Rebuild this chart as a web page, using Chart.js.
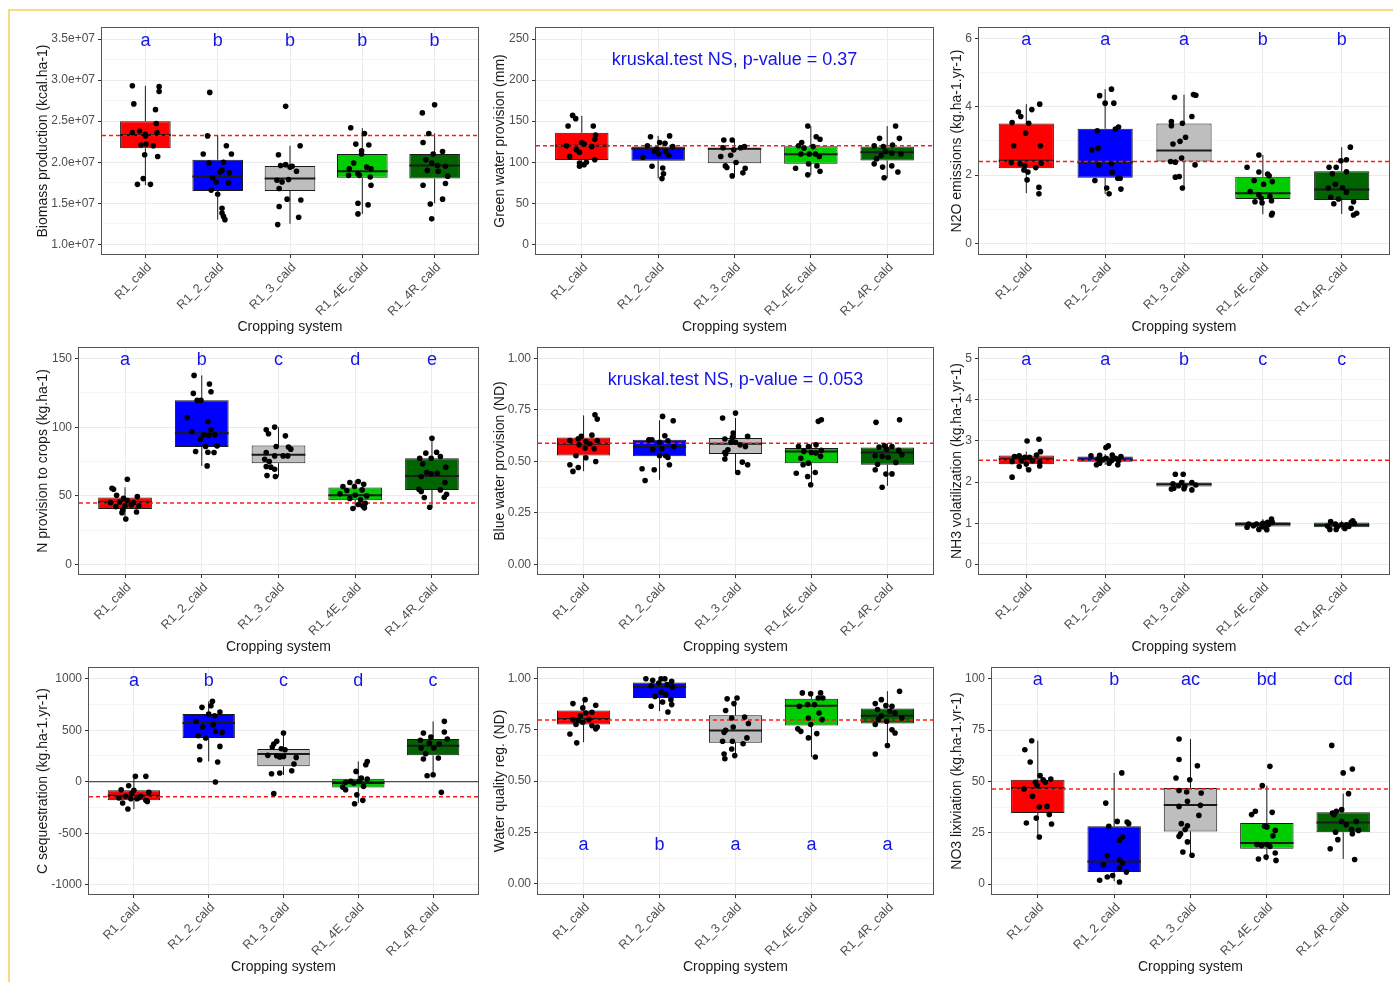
<!DOCTYPE html>
<html>
<head>
<meta charset="utf-8">
<script src="https://cdn.jsdelivr.net/npm/chart.js@4/dist/chart.umd.min.js"></script>
<style>
  html, body { margin: 0; padding: 0; background: #fff; overflow: hidden; }
  #page { position: relative; width: 1393px; height: 982px; }
  #frame { position: absolute; left: 8px; top: 9px; width: 1420px; height: 1000px;
           border: 2px solid #f5dc80; box-sizing: border-box; }
  canvas { position: absolute; }
</style>
</head>
<body>
<div id="page"><div id="frame"></div></div>
<script>
// cropping systems on the x axis
const categories = ['R1_cald', 'R1_2_cald', 'R1_3_cald', 'R1_4E_cald', 'R1_4R_cald'];

// boxes: [lower whisker, q1, median, q3, upper whisker]; points: [jitter, value]
const biomassBoxes = [[1.72e7, 2.17e7, 2.33e7, 2.50e7, 2.93e7], [1.30e7, 1.65e7, 1.825e7, 2.03e7, 2.33e7],
  [1.25e7, 1.65e7, 1.80e7, 1.955e7, 2.20e7], [1.37e7, 1.81e7, 1.89e7, 2.10e7, 2.415e7], [1.50e7, 1.80e7, 1.96e7, 2.10e7, 2.35e7]];
const biomassPoints = [
  [[-0.18,2.93e7],[0.19,2.92e7],[0.19,2.86e7],[-0.16,2.71e7],[0.14,2.64e7],[0.15,2.47e7],[-0.18,2.36e7],[-0.08,2.38e7],[0.0,2.34e7],[0.0,2.32e7],[0.16,2.36e7],[-0.06,2.21e7],[0.01,2.22e7],[0.11,2.20e7],[-0.01,2.09e7],[0.17,2.07e7],[-0.03,1.80e7],[-0.11,1.73e7],[0.07,1.73e7]],
  [[-0.11,2.85e7],[-0.14,2.32e7],[0.12,2.20e7],[-0.2,2.10e7],[0.19,2.10e7],[-0.12,1.99e7],[0.08,2.00e7],[0.06,1.90e7],[0.16,1.87e7],[-0.07,1.81e7],[-0.02,1.76e7],[0.15,1.75e7],[-0.09,1.66e7],[0.0,1.61e7],[0.06,1.44e7],[0.06,1.38e7],[0.08,1.34e7],[0.1,1.30e7],[0.03,1.88e7]],
  [[-0.06,2.68e7],[0.14,2.20e7],[-0.16,2.09e7],[-0.13,1.96e7],[-0.06,1.97e7],[0,1.94e7],[0.09,1.89e7],[0.03,1.95e7],[-0.18,1.78e7],[-0.11,1.76e7],[-0.02,1.79e7],[-0.15,1.68e7],[-0.04,1.55e7],[0.15,1.54e7],[-0.15,1.46e7],[0.12,1.33e7],[-0.17,1.24e7]],
  [[-0.16,2.42e7],[0.03,2.35e7],[-0.09,2.22e7],[0.09,2.21e7],[-0.01,2.10e7],[-0.01,2.14e7],[-0.12,1.99e7],[0.06,1.94e7],[0.12,1.92e7],[-0.18,1.92e7],[-0.06,1.86e7],[-0.19,1.84e7],[-0.04,1.84e7],[0.11,1.82e7],[0.12,1.72e7],[-0.06,1.50e7],[0.08,1.48e7],[-0.06,1.37e7]],
  [[-0.17,2.60e7],[0,2.70e7],[-0.08,2.35e7],[-0.16,2.24e7],[0.11,2.13e7],[-0.02,2.10e7],[-0.12,2.03e7],[-0.04,1.99e7],[0.04,1.96e7],[0.15,1.95e7],[-0.1,1.90e7],[0.05,1.89e7],[0.18,1.83e7],[-0.16,1.72e7],[0.15,1.74e7],[-0.06,1.49e7],[0.11,1.55e7],[-0.04,1.31e7]]
];
const biomassRef = 2.325e7;
const biomassLetters = ['a', 'b', 'b', 'b', 'b'];
const biomassTicks = [1.0e7, 1.5e7, 2.0e7, 2.5e7, 3.0e7, 3.5e7];

const greenBoxes = [[94.7, 102.8, 119.9, 135.8, 156.5], [80.5, 101.6, 116.3, 119.1, 132.1], [83.3, 98.8, 116.3, 116.7, 128],
  [84.6, 98, 109.8, 119.5, 143.9], [80.5, 102, 112.2, 119.1, 143.9]];
const greenPoints = [
  [[-0.12,157],[-0.08,153],[-0.18,144],[0.15,144],[0.18,133],[0.17,128],[0,124],[0.03,122],[-0.2,120],[0.13,119],[-0.07,115],[-0.03,112],[-0.16,107],[0.17,103],[-0.03,99],[0.06,100],[0.03,97],[-0.03,95]],
  [[-0.1,131],[0.15,132],[0.02,124],[0.09,123],[-0.14,120],[-0.02,116],[0.19,119],[0.1,113],[-0.2,106],[0.14,108.5],[-0.08,95],[0.06,93],[0.07,86],[0.05,80],[0.01,110],[-0.05,113]],
  [[-0.14,127],[-0.03,127],[-0.15,117.5],[0.13,119],[-0.01,115],[-0.18,107],[-0.05,108.5],[-0.12,95.5],[0.02,99.6],[-0.1,93.5],[0.14,92.7],[-0.03,83.3],[0.11,87],[0.08,117.5]],
  [[-0.04,144],[0.07,131],[0.12,128],[-0.12,124],[-0.16,120],[-0.09,117],[0.03,119],[-0.02,110],[0.06,110],[-0.13,110],[0.11,107],[-0.03,98],[0.08,95.5],[-0.2,92.7],[0.12,89],[-0.04,84.6]],
  [[0.11,144],[-0.1,129],[0.16,129],[-0.17,120],[-0.05,119],[0.07,121],[-0.02,113],[-0.08,108],[0.06,111],[0.18,110],[-0.14,104],[-0.17,98],[-0.06,94],[0.06,95.5],[0.14,88],[-0.04,81]]
];
const greenRef = 119.9;
const greenTicks = [0, 50, 100, 150, 200, 250];

const n2oBoxes = [[1.47, 2.20, 2.42, 3.51, 4.08], [1.45, 1.92, 2.37, 3.36, 4.52], [1.615, 2.40, 2.72, 3.51, 4.36],
  [0.85, 1.30, 1.47, 1.95, 2.59], [0.86, 1.27, 1.58, 2.11, 2.82]];
const n2oPoints = [
  [[0.17,4.08],[0.07,3.92],[-0.1,3.85],[-0.07,3.72],[-0.18,3.54],[0.03,3.52],[-0.01,3.23],[-0.16,2.86],[0.18,2.86],[-0.19,2.37],[-0.08,2.33],[-0.02,2.28],[0.19,2.35],[0.12,2.22],[-0.03,2.15],[0.02,2.09],[0.01,1.86],[0.16,1.64],[0.16,1.45]],
  [[0.08,4.52],[-0.07,4.33],[0,4.11],[0.11,4.11],[0.17,3.41],[0.13,3.35],[-0.1,3.30],[-0.09,2.79],[-0.17,2.74],[-0.08,2.29],[0.08,2.33],[0.09,2.08],[0.16,1.91],[0.19,1.91],[-0.13,1.84],[0.02,1.62],[0.2,1.59],[0.05,1.45]],
  [[-0.12,4.28],[0.12,4.36],[0.15,4.34],[0.1,3.72],[-0.16,3.57],[-0.02,3.52],[-0.16,3.45],[0.02,3.11],[-0.05,2.99],[-0.14,2.91],[-0.03,2.50],[-0.17,2.40],[-0.11,2.38],[0.14,2.30],[-0.11,1.94],[-0.06,1.96],[-0.02,1.62]],
  [[-0.05,2.59],[-0.2,2.23],[-0.05,2.09],[0.06,2.03],[0.08,1.98],[-0.11,1.84],[0.12,1.81],[0.01,1.73],[-0.16,1.52],[-0.05,1.42],[0.09,1.37],[-0.02,1.32],[-0.1,1.22],[-0.01,1.19],[0.11,1.25],[0.12,0.88],[0.11,0.83]],
  [[0.11,2.82],[0.06,2.45],[-0.01,2.42],[-0.16,2.23],[-0.07,2.23],[0.06,2.10],[-0.12,2.04],[-0.08,1.73],[0.01,1.63],[-0.17,1.62],[0.06,1.50],[-0.14,1.35],[-0.04,1.30],[0.15,1.22],[-0.1,1.16],[0.12,1.03],[0.19,0.88],[0.15,0.83]]
];
const n2oRef = 2.40;
const n2oLetters = ['a', 'a', 'a', 'b', 'b'];
const n2oTicks = [0, 2, 4, 6];

const nCropBoxes = [[32.9, 40.4, 45.3, 48.7, 56.2], [71.8, 85.5, 95.7, 119.6, 137.8], [64, 73.8, 79.9, 86.7, 100.1],
  [40.4, 46.8, 50.4, 56, 61.1], [41.6, 54.3, 64.5, 77.4, 92]];
const nCropPoints = [
  [[0.03,62.1],[-0.17,55.5],[-0.15,54.8],[-0.11,50.4],[0.16,49.4],[-0.02,48.2],[0.03,46.5],[-0.19,45],[-0.07,45.5],[0.11,45],[0.08,43.3],[0,42.6],[-0.12,42.1],[0.18,42.6],[-0.03,39.7],[0.15,38.2],[-0.04,37.7],[0.01,33.1]],
  [[-0.1,137.8],[0.1,131.5],[-0.11,124.7],[0.12,125.9],[-0.06,119.6],[-0.01,119.6],[-0.19,107.1],[0.08,104.2],[-0.13,96.9],[0.12,98.1],[0.03,94.5],[0.09,94.2],[0.17,94.5],[-0.02,91.3],[0.2,86.4],[0.05,86],[-0.08,82.3],[0.08,81.8],[0.16,81.6],[0.07,71.8]],
  [[-0.05,100.1],[-0.16,98.1],[-0.13,95.2],[0.09,93.7],[-0.03,86],[0.13,85.5],[0.16,84],[-0.16,81.6],[-0.05,79.1],[0.06,79.1],[0.12,79.1],[-0.18,76.7],[-0.12,75],[-0.1,70.9],[-0.16,71.3],[-0.05,69.4],[-0.15,64.8],[-0.04,64]],
  [[-0.07,59.7],[0.04,60.4],[0.11,58.4],[-0.16,56.7],[-0.01,56.7],[-0.11,53.8],[0.09,54.3],[-0.2,51.4],[0,50.6],[0.15,49.9],[-0.07,48],[0.07,47],[0.13,44.6],[0.04,43.6],[0.1,42.6],[-0.03,40.7],[0.12,41.2]],
  [[0,92],[0.06,81.8],[-0.08,81.1],[0.11,78.7],[-0.16,77.4],[-0.01,77.4],[-0.12,73.3],[0.18,70.9],[-0.07,67],[0.07,66.5],[-0.01,66],[-0.14,64],[0.17,59.7],[-0.17,54.8],[0.11,54.3],[-0.14,53.1],[0.19,51.1],[0.16,48.9],[-0.1,48.7],[-0.03,41.6]]
];
const nCropRef = 44.8;
const nCropLetters = ['a', 'b', 'c', 'd', 'e'];
const nCropTicks = [0, 50, 100, 150];

const blueBoxes = [[0.452, 0.528, 0.585, 0.616, 0.723], [0.41, 0.524, 0.569, 0.605, 0.699], [0.442, 0.536, 0.585, 0.613, 0.71],
  [0.386, 0.491, 0.548, 0.564, 0.588], [0.381, 0.483, 0.543, 0.567, 0.588]];
const bluePoints = [
  [[0.15,0.726],[0.18,0.705],[0.11,0.627],[-0.03,0.621],[-0.07,0.609],[-0.18,0.601],[0.03,0.596],[0.18,0.6],[0.08,0.585],[-0.06,0.58],[0.02,0.564],[0.14,0.561],[-0.1,0.527],[0.03,0.517],[0.16,0.499],[-0.18,0.483],[-0.07,0.47],[-0.14,0.451]],
  [[0.04,0.718],[0.18,0.697],[-0.14,0.605],[-0.1,0.605],[0.07,0.624],[0.11,0.6],[0,0.592],[0.19,0.572],[-0.09,0.556],[0.03,0.561],[0.08,0.527],[0,0.527],[0.11,0.519],[0.13,0.483],[-0.23,0.464],[-0.07,0.459],[-0.19,0.407]],
  [[0,0.734],[-0.17,0.71],[-0.03,0.637],[-0.04,0.616],[-0.14,0.608],[0.16,0.621],[-0.06,0.593],[0,0.592],[0.06,0.58],[0.13,0.572],[-0.1,0.556],[-0.14,0.543],[-0.13,0.535],[-0.14,0.511],[0.09,0.496],[0.16,0.483],[0.03,0.446]],
  [[0.09,0.694],[0.13,0.702],[-0.04,0.572],[0.06,0.58],[-0.17,0.572],[-0.1,0.548],[0.13,0.553],[0,0.543],[0.06,0.54],[-0.14,0.515],[0.12,0.524],[-0.04,0.491],[-0.11,0.483],[-0.2,0.442],[0.05,0.446],[-0.05,0.426],[-0.01,0.386]],
  [[-0.15,0.689],[0.16,0.702],[-0.04,0.575],[0.06,0.572],[-0.11,0.569],[-0.01,0.559],[0.15,0.553],[-0.16,0.527],[-0.07,0.524],[0.01,0.52],[0.19,0.532],[0.11,0.494],[-0.13,0.486],[-0.16,0.459],[-0.02,0.438],[0.06,0.439],[-0.07,0.374]]
];
const blueRef = 0.588;
const blueTicks = [0, 0.25, 0.5, 0.75, 1.0];

const nh3Boxes = [[2.30, 2.435, 2.557, 2.646, 2.744], [2.42, 2.492, 2.549, 2.622, 2.68], [1.81, 1.891, 1.948, 1.989, 2.05],
  [0.84, 0.917, 0.982, 1.023, 1.1], [0.85, 0.901, 0.958, 1.015, 1.063]];
const nh3Points = [
  [[0.01,3.0],[0.16,3.04],[0.18,2.74],[-0.15,2.62],[0.13,2.66],[-0.09,2.64],[-0.02,2.6],[0.04,2.6],[-0.18,2.5],[-0.06,2.52],[0.08,2.52],[0.17,2.48],[-0.09,2.38],[0,2.44],[0.17,2.39],[0.03,2.3],[-0.18,2.12]],
  [[0.04,2.88],[0.01,2.84],[-0.18,2.64],[-0.07,2.65],[0.09,2.66],[0.2,2.62],[-0.09,2.56],[0.01,2.58],[0.13,2.58],[-0.03,2.54],[0.08,2.52],[0.17,2.52],[-0.11,2.42],[0.05,2.46],[0.16,2.42],[-0.07,2.46]],
  [[-0.11,2.19],[-0.01,2.19],[-0.14,1.96],[-0.03,1.99],[0.1,1.99],[0.15,1.93],[-0.13,1.85],[-0.07,1.91],[0.01,1.89],[0.1,1.81],[0,1.84],[-0.16,1.83]],
  [[0.11,1.1],[0.12,1.02],[0,1.0],[-0.08,0.98],[-0.18,0.98],[0.07,0.96],[-0.12,0.94],[-0.01,0.92],[-0.2,0.9],[0.04,0.88],[0.05,0.84],[-0.05,0.85],[0.06,1.02]],
  [[0.14,1.06],[-0.14,1.04],[0.12,1.02],[-0.08,0.98],[0,0.96],[0.06,0.96],[-0.18,0.93],[-0.05,0.92],[0.09,0.92],[-0.15,0.85],[-0.07,0.85],[0.04,0.87],[0.16,1.0]]
];
const nh3Ref = 2.53;
const nh3Letters = ['a', 'a', 'b', 'c', 'c'];
const nh3Ticks = [0, 1, 2, 3, 4, 5];

const cSeqBoxes = [[-265, -181, -136, -84, 45], [197, 424, 570, 657, 780], [65, 149, 269, 317, 473],
  [-207, -55, -13, 29, 197], [58, 256, 350, 414, 586]];
const cSeqPoints = [
  [[0.02,52],[0.16,52],[-0.07,-39],[-0.17,-78],[0,-84],[0.2,-103],[-0.03,-116],[-0.11,-142],[0.09,-142],[-0.2,-158],[0.04,-165],[0.16,-181],[-0.04,-165],[-0.15,-207],[-0.08,-265],[0.06,-158],[0.18,-191]],
  [[0.05,780],[0.03,738],[-0.09,722],[0.15,676],[0,657],[0.08,641],[-0.17,586],[-0.08,531],[0.06,553],[0.18,479],[0.09,489],[-0.14,447],[-0.04,424],[-0.12,343],[0.15,343],[-0.12,214],[0.12,191],[0.09,-3]],
  [[0,473],[-0.13,366],[-0.09,392],[-0.15,337],[-0.03,320],[0.02,311],[-0.21,256],[-0.09,252],[-0.05,240],[0.17,236],[0,246],[0.14,172],[0.11,107],[-0.16,78],[-0.05,84],[-0.13,-116]],
  [[0.12,197],[0.1,165],[-0.03,100],[0.04,36],[-0.1,3],[0.01,3],[0.12,26],[-0.17,-6],[-0.06,-13],[-0.21,-52],[-0.17,-78],[0.07,-45],[-0.02,-126],[0.06,-181],[-0.05,-214]],
  [[0.15,586],[-0.13,473],[0.15,482],[-0.03,434],[0.19,414],[-0.17,401],[0.08,366],[-0.05,375],[-0.16,327],[0.01,327],[-0.1,272],[0.07,230],[-0.13,220],[-0.08,58],[0,68],[0.11,-103]]
];
const cSeqRef = -146;
const cSeqLetters = ['a', 'b', 'c', 'd', 'c'];
const cSeqTicks = [-1000, -500, 0, 500, 1000];

const wqBoxes = [[0.689, 0.775, 0.802, 0.843, 0.901], [0.84, 0.904, 0.958, 0.979, 1.0], [0.617, 0.686, 0.746, 0.82, 0.904],
  [0.617, 0.77, 0.867, 0.9, 0.932], [0.677, 0.78, 0.818, 0.853, 0.937]];
const wqPoints = [
  [[0.02,0.896],[-0.14,0.877],[0.16,0.869],[-0.01,0.856],[0.11,0.835],[0.03,0.831],[-0.04,0.818],[-0.14,0.799],[-0.07,0.796],[0.07,0.799],[-0.01,0.786],[-0.1,0.775],[0.11,0.77],[0.16,0.754],[-0.18,0.729],[-0.09,0.686],[0.18,0.763]],
  [[-0.18,0.998],[-0.09,0.99],[0.02,0.997],[0.07,0.997],[0.16,0.985],[-0.01,0.977],[0.1,0.969],[-0.11,0.964],[0.17,0.958],[0.02,0.932],[0.08,0.921],[-0.06,0.912],[0.15,0.896],[0.04,0.885],[0.16,0.872],[-0.11,0.864],[0.11,0.836]],
  [[-0.11,0.9],[0.02,0.904],[-0.02,0.877],[-0.13,0.843],[0.12,0.812],[-0.05,0.807],[0.17,0.78],[-0.03,0.763],[-0.13,0.747],[-0.15,0.737],[0.15,0.71],[-0.17,0.694],[-0.04,0.694],[0.1,0.682],[-0.05,0.656],[-0.15,0.632],[-0.01,0.624],[-0.14,0.609]],
  [[-0.12,0.929],[-0.01,0.925],[0.12,0.929],[0.09,0.904],[0.15,0.904],[-0.16,0.864],[-0.05,0.872],[0.04,0.872],[0.1,0.831],[-0.04,0.807],[0.14,0.799],[-0.18,0.754],[-0.14,0.742],[-0.01,0.775],[0.07,0.731],[-0.04,0.71],[0.05,0.617]],
  [[0.16,0.937],[-0.08,0.896],[-0.16,0.877],[-0.02,0.867],[0.06,0.864],[-0.13,0.848],[0.03,0.84],[0.1,0.831],[-0.08,0.818],[0.19,0.807],[-0.12,0.799],[-0.01,0.791],[-0.16,0.775],[0.06,0.75],[0.1,0.734],[0,0.673],[-0.16,0.632]]
];
const wqRef = 0.797;
const wqLetters = ['a', 'b', 'a', 'a', 'a'];

const no3Boxes = [[22.9, 34.6, 46.8, 50.8, 69.8], [1.3, 5.8, 10.9, 28.1, 54.1], [14.3, 25.6, 38.5, 46.8, 70.6],
  [11.5, 17.2, 20, 29.7, 47.9], [12.2, 25.2, 29.9, 34.9, 44]];
const no3Points = [
  [[-0.08,69.8],[-0.17,65.4],[-0.1,59.4],[0.03,52.8],[0.07,50.8],[0.17,51.1],[-0.03,49.5],[-0.18,46.3],[0.1,49.5],[-0.07,42.7],[0.12,37.8],[0.02,37.5],[0.15,33.9],[-0.02,32.1],[-0.15,29.7],[0.18,29.2],[0.02,22.9],[-0.01,47.9]],
  [[0.1,54.1],[-0.11,39.4],[0.04,30.5],[0.17,30.2],[-0.07,28.1],[0.19,29.4],[0.11,22.9],[0.07,21.3],[-0.09,13.8],[0.07,11.9],[0.11,10.2],[-0.14,9.4],[0.07,7.8],[0.16,5.8],[-0.02,4.1],[-0.09,3.4],[-0.19,1.8],[0.07,1]],
  [[-0.15,70.6],[-0.15,60.6],[0.09,57.6],[-0.19,51.6],[-0.01,50.8],[-0.15,45.5],[-0.05,44.8],[0.14,44.3],[-0.04,40.3],[-0.15,37.8],[0.13,38.3],[0.11,33.4],[-0.12,29.4],[-0.04,28.4],[-0.07,26.5],[-0.13,24.4],[-0.15,23.2],[-0.04,20.5],[-0.1,15.6],[0.02,14]],
  [[0.04,57.3],[-0.06,47.9],[-0.2,33.8],[-0.15,35.4],[0.07,34.9],[-0.03,28.1],[0,27.8],[0.11,26.1],[0.08,23.5],[-0.13,19.2],[-0.07,18.7],[0,19.2],[0.04,18.3],[0.11,15.1],[-0.11,12.2],[-0.01,13.1],[0.12,11.5]],
  [[-0.15,67.5],[0.12,56],[0,54.1],[0.07,44],[-0.14,34.6],[-0.02,36.2],[-0.09,35.4],[-0.12,33.8],[0.17,30.5],[-0.02,30.5],[0.04,28.9],[-0.1,25.2],[0.11,26.5],[0.2,26.1],[0.12,24.5],[-0.07,21.6],[-0.17,17.2],[0.15,11.9]]
];
const no3Ref = 46.3;
const no3Letters = ['a', 'b', 'ac', 'bd', 'cd'];
const no3Ticks = [0, 25, 50, 75, 100];

// ---- style ----
const FONT = '"Liberation Sans", Arial, sans-serif';
const boxColors = ['#ff0000', '#0000ff', '#bebebe', '#00cd00', '#006400'];
const X_MIN = 0.4, X_MAX = 5.6, BOX_HALF = 0.35;

// page columns / rows (canvas placement) and axis title centres
const COLS = [{ left: 20, right: 482, title: 43 }, { left: 482, right: 937, title: 500 }, { left: 937, right: 1393, title: 957 }];
const ROWS = [{ top: 14, bottom: 338, title: 327 }, { top: 338, bottom: 658, title: 647 }, { top: 658, bottom: 982, title: 967 }];

const fmtInt = v => String(v);
const fmt2 = v => v.toFixed(2);
const fmtExp = v => v.toExponential(1).replace(/e\+(\d)$/, 'e+0$1');

const panels = [
  { col: 0, row: 0, plot: [102, 28, 478, 254], title: 'Biomass production (kcal.ha-1)', boxes: biomassBoxes, points: biomassPoints,
    ref: biomassRef, ticks: biomassTicks, fmt: fmtExp, range: [0.882e7, 3.634e7], letters: biomassLetters, letterY: 3.48e7 },
  { col: 1, row: 0, plot: [536, 28, 934, 254], title: 'Green water provision (mm)', boxes: greenBoxes, points: greenPoints,
    ref: greenRef, ticks: greenTicks, fmt: fmtInt, range: [-11.8, 263.4], note: 'kruskal.test NS, p-value = 0.37', noteY: 225 },
  { col: 2, row: 0, plot: [979, 28, 1391, 254], title: 'N2O emissions (kg.ha-1.yr-1)', boxes: n2oBoxes, points: n2oPoints,
    ref: n2oRef, ticks: n2oTicks, fmt: fmtInt, range: [-0.313, 6.313], letters: n2oLetters, letterY: 5.96 },
  { col: 0, row: 1, plot: [79, 348, 478, 574], title: 'N provision to crops (kg.ha-1)', boxes: nCropBoxes, points: nCropPoints,
    ref: nCropRef, ticks: nCropTicks, fmt: fmtInt, range: [-7.06, 157.8], letters: nCropLetters, letterY: 148.8 },
  { col: 1, row: 1, plot: [538, 348, 934, 574], title: 'Blue water provision (ND)', boxes: blueBoxes, points: bluePoints,
    ref: blueRef, ticks: blueTicks, fmt: fmt2, range: [-0.047, 1.05], note: 'kruskal.test NS, p-value = 0.053', noteY: 0.896 },
  { col: 2, row: 1, plot: [979, 348, 1391, 574], title: 'NH3 volatilization (kg.ha-1.yr-1)', boxes: nh3Boxes, points: nh3Points,
    ref: nh3Ref, ticks: nh3Ticks, fmt: fmtInt, range: [-0.235, 5.26], letters: nh3Letters, letterY: 4.96 },
  { col: 0, row: 2, plot: [89, 668, 478, 894], title: 'C sequestration (kg.ha-1.yr-1)', boxes: cSeqBoxes, points: cSeqPoints,
    ref: cSeqRef, ticks: cSeqTicks, fmt: fmtInt, range: [-1090, 1104], letters: cSeqLetters, letterY: 974, zeroLine: true },
  { col: 1, row: 2, plot: [538, 668, 934, 894], title: 'Water quality reg. (ND)', boxes: wqBoxes, points: wqPoints,
    ref: wqRef, ticks: blueTicks, fmt: fmt2, range: [-0.049, 1.05], letters: wqLetters, letterY: 0.19 },
  { col: 2, row: 2, plot: [992, 668, 1391, 894], title: 'NO3 lixiviation (kg.ha-1.yr-1)', boxes: no3Boxes, points: no3Points,
    ref: no3Ref, ticks: no3Ticks, fmt: fmtInt, range: [-4.87, 105.2], letters: no3Letters, letterY: 99.2 }
];

// frame round the plotting panel, drawn on top like ggplot's panel.border
const panelFrame = {
  id: 'panelFrame',
  afterDatasetsDraw(chart) {
    const { ctx, chartArea: a } = chart;
    ctx.save();
    ctx.setLineDash([]);
    ctx.strokeStyle = '#555';
    ctx.lineWidth = 1;
    ctx.strokeRect(a.left - 0.5, a.top - 0.5, a.right - a.left + 1, a.bottom - a.top + 1);
    ctx.restore();
  }
};

// significance letters / test note, placed with the chart's scales
const panelText = {
  id: 'panelText',
  afterDatasetsDraw(chart, args, opts) {
    const { ctx, scales: { x, y } } = chart;
    ctx.save();
    ctx.fillStyle = '#1414e6';
    ctx.font = '18px ' + FONT;
    ctx.textAlign = 'center';
    ctx.textBaseline = 'middle';
    (opts.letters || []).forEach((t, i) => ctx.fillText(t, x.getPixelForValue(i + 1), y.getPixelForValue(opts.letterY)));
    if (opts.note) ctx.fillText(opts.note, x.getPixelForValue(3), y.getPixelForValue(opts.noteY));
    ctx.restore();
  }
};

function withMinors(majors) {
  const out = [];
  majors.forEach((v, i) => {
    if (i > 0) out.push({ value: (majors[i - 1] + v) / 2, minor: true });
    out.push({ value: v, minor: false });
  });
  return out;
}

function makePanel(p) {
  const col = COLS[p.col], row = ROWS[p.row];
  const [pl, pt, pr, pb] = p.plot;
  const canvas = document.createElement('canvas');
  canvas.width = col.right - col.left;
  canvas.height = row.bottom - row.top;
  canvas.style.left = col.left + 'px';
  canvas.style.top = row.top + 'px';
  document.getElementById('page').appendChild(canvas);

  const boxData = p.boxes.map((b, i) => ({ x: i + 1, y: [b[1], b[3]] }));
  const whiskers = [], medians = [], pts = [];
  p.boxes.forEach((b, i) => {
    whiskers.push({ x: i + 1, y: b[0] }, { x: i + 1, y: b[1] }, { x: i + 1, y: null },
                  { x: i + 1, y: b[3] }, { x: i + 1, y: b[4] }, { x: i + 1, y: null });
    medians.push({ x: i + 1 - BOX_HALF, y: b[2] }, { x: i + 1 + BOX_HALF, y: b[2] }, { x: i + 1, y: null });
  });
  p.points.forEach((grp, i) => grp.forEach(([dx, v]) => pts.push({ x: i + 1 + dx, y: v })));

  const datasets = [
    { type: 'scatter', data: pts, pointRadius: 2.8, pointBackgroundColor: '#000', pointBorderWidth: 0, order: 0 },
    { type: 'line', data: [{ x: X_MIN, y: p.ref }, { x: X_MAX, y: p.ref }], borderColor: '#ff1a1a', borderWidth: 1.5,
      borderDash: [4, 3], pointRadius: 0, order: 1 },
    { type: 'line', data: medians, borderColor: '#1a1a1a', borderWidth: 2, pointRadius: 0, spanGaps: false, order: 2 },
    { type: 'line', data: whiskers, borderColor: '#1a1a1a', borderWidth: 1, pointRadius: 0, spanGaps: false, order: 2 },
    { type: 'bar', data: boxData, backgroundColor: boxColors, borderColor: '#1a1a1a', borderWidth: 1,
      borderSkipped: false, barPercentage: 0.7, categoryPercentage: 1, order: 3 }
  ];
  if (p.zeroLine) {
    datasets.push({ type: 'line', data: [{ x: X_MIN, y: 0 }, { x: X_MAX, y: 0 }], borderColor: '#222',
      borderWidth: 1, pointRadius: 0, order: 2 });
  }

  const yTicks = withMinors(p.ticks);
  new Chart(canvas.getContext('2d'), {
    type: 'scatter',
    data: { datasets: datasets },
    plugins: [panelFrame, panelText],
    options: {
      responsive: false,
      animation: false,
      events: [],
      layout: { padding: { top: pt - row.top, right: col.right - pr, left: 0, bottom: 0 } },
      plugins: {
        legend: { display: false },
        tooltip: { enabled: false },
        panelText: { letters: p.letters, letterY: p.letterY, note: p.note, noteY: p.noteY }
      },
      scales: {
        x: {
          type: 'linear', min: X_MIN, max: X_MAX, offset: false,
          afterBuildTicks: s => { s.ticks = categories.map((c, i) => ({ value: i + 1 })); },
          afterFit: s => { s.height = row.bottom - pb; s.paddingLeft = 0; s.paddingRight = 0; },
          ticks: { autoSkip: false, minRotation: 45, maxRotation: 45, padding: 2, labelOffset: 4, color: '#4d4d4d',
                   font: { size: 12.5, family: FONT }, callback: (v, i) => categories[i] },
          grid: { color: '#ebebeb', tickColor: '#333', tickLength: 4, offset: false },
          border: { display: false },
          title: { display: true, text: 'Cropping system', color: '#1a1a1a', font: { size: 14, family: FONT },
                   padding: { top: 0, bottom: row.bottom - row.title - 8.4 } }
        },
        y: {
          type: 'linear', min: p.range[0], max: p.range[1],
          afterBuildTicks: s => { s.ticks = yTicks.map(t => ({ value: t.value, minor: t.minor })); },
          afterFit: s => { s.width = pl - col.left; s.paddingTop = 0; s.paddingBottom = 0; },
          ticks: { autoSkip: false, padding: 3, color: '#4d4d4d', font: { size: 12, family: FONT },
                   callback: (v, i, t) => (t[i].minor ? '' : p.fmt(v)) },
          grid: {
            color: c => (c.tick && c.tick.minor ? '#f5f5f5' : '#ebebeb'),
            tickColor: c => (c.tick && c.tick.minor ? 'rgba(0,0,0,0)' : '#333'),
            tickLength: 4
          },
          border: { display: false },
          title: { display: true, text: p.title, color: '#1a1a1a', font: { size: 14, family: FONT },
                   padding: { top: col.title - col.left - 8.4, bottom: 0 } }
        }
      }
    }
  });
}

panels.forEach(makePanel);
</script>
</body>
</html>
